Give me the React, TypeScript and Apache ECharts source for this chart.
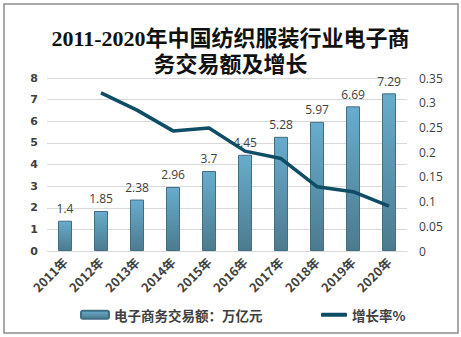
import React, { useEffect, useRef } from "react";
import * as echarts from "echarts";

const categories = ["2011年", "2012年", "2013年", "2014年", "2015年", "2016年", "2017年", "2018年", "2019年", "2020年"];
const tradeValues = [1.4, 1.85, 2.38, 2.96, 3.7, 4.45, 5.28, 5.97, 6.69, 7.29];
const growthRates: (number | null)[] = [null, 0.32, 0.285, 0.243, 0.249, 0.202, 0.187, 0.13, 0.12, 0.091];
const barName = "电子商务交易额：万亿元";
const lineName = "增长率%";
const titleText = "2011-2020年中国纺织服装行业电子商\n务交易额及增长";

export default function App() {
  const ref = useRef<HTMLDivElement>(null);
  useEffect(() => {
    document.body.style.margin = "0";
    const chart = echarts.init(ref.current!, undefined, { renderer: "svg" });
    const axisLabelColor = "#404040";
    const legendText = {
      fontSize: 13.5,
      fontWeight: "bold",
      color: "#404040",
      fontFamily: "'Noto Sans CJK SC', sans-serif",
    };
    chart.setOption({
      animation: false,
      backgroundColor: "#ffffff",
      title: {
        text: titleText,
        left: "center",
        top: 20,
        textStyle: {
          fontFamily: "'Liberation Serif', 'Noto Sans CJK SC', serif",
          fontSize: 22,
          fontWeight: "bold",
          lineHeight: 26,
          color: "#111",
        },
      },
      graphic: [
        {
          type: "rect",
          shape: { x: 4, y: 4, width: 454, height: 329 },
          style: { fill: "none", stroke: "#8c8c8c", lineWidth: 1.5 },
          silent: true,
        },
      ],
      grid: { left: 47, right: 54, top: 78, bottom: 86, containLabel: false },
      legend: [
        {
          data: [barName],
          left: 75,
          top: 303,
          itemWidth: 28,
          itemHeight: 8,
          itemGap: 4,
          textStyle: legendText,
        },
        {
          data: [{ name: lineName, icon: "roundRect" }],
          left: 316,
          top: 303,
          itemWidth: 26,
          itemHeight: 4,
          textStyle: legendText,
        },
      ],
      xAxis: {
        type: "category",
        data: categories,
        axisLine: { show: true, lineStyle: { color: "#d9d9d9" } },
        axisTick: { show: false },
        axisLabel: {
          rotate: 45,
          interval: 0,
          color: axisLabelColor,
          fontSize: 12.5,
          fontWeight: "bold",
          margin: 9,
          fontFamily: "'Noto Sans CJK SC', sans-serif",
        },
      },
      yAxis: [
        {
          type: "value",
          min: 0,
          max: 8,
          interval: 1,
          axisLine: { show: false },
          axisTick: { show: false },
          splitLine: { lineStyle: { color: "#d9d9d9" } },
          axisLabel: { color: axisLabelColor, fontSize: 11, fontWeight: "bold", margin: 9, fontFamily: "'DejaVu Sans', sans-serif" },
        },
        {
          type: "value",
          min: 0,
          max: 0.35,
          interval: 0.05,
          axisLine: { show: false },
          axisTick: { show: false },
          splitLine: { show: false },
          axisLabel: { color: axisLabelColor, fontSize: 12, margin: 12, fontFamily: "'Open Sans', sans-serif" },
        },
      ],
      series: [
        {
          name: barName,
          type: "bar",
          data: tradeValues,
          barWidth: 14,
          itemStyle: {
            color: new echarts.graphic.LinearGradient(0, 0, 0, 1, [
              { offset: 0, color: "#68acce" },
              { offset: 1, color: "#4c7b8e" },
            ]),
            borderColor: "#3f6f84",
            borderWidth: 1,
          },
          label: {
            show: true,
            position: "top",
            distance: 6,
            color: "#404040",
            fontSize: 12,
            fontFamily: "'Open Sans', sans-serif",
          },
        },
        {
          name: lineName,
          type: "line",
          yAxisIndex: 1,
          data: growthRates,
          showSymbol: false,
          symbol: "none",
          lineStyle: { color: "#0e4d66", width: 3.5 },
          itemStyle: { color: "#0e4d66" },
          z: 5,
        },
      ],
    });
    return () => chart.dispose();
  }, []);
  return <div ref={ref} style={{ width: 461, height: 337 }} />;
}
